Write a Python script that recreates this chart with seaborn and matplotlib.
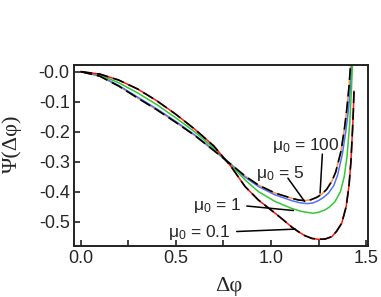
import matplotlib
matplotlib.use("Agg")
import matplotlib.pyplot as plt
import seaborn as sns

# curves, one per mu_0
x_01 = [0, 0.1, 0.2, 0.3, 0.4, 0.5, 0.6, 0.7, 0.79, 0.864, 0.934, 1.022, 1.07, 1.109,
        1.145, 1.179, 1.215, 1.249, 1.285, 1.32, 1.345, 1.372, 1.395, 1.41, 1.42, 1.428,
        1.433, 1.436]
y_01 = [0, -0.008, -0.028, -0.058, -0.097, -0.142, -0.192, -0.248, -0.316, -0.383, -0.428,
        -0.472, -0.497, -0.518, -0.534, -0.547, -0.556, -0.559, -0.558, -0.55, -0.532,
        -0.505, -0.45, -0.38, -0.3, -0.2, -0.128, -0.065]

x_1 = [0, 0.1, 0.2, 0.3, 0.4, 0.5, 0.6, 0.7, 0.79, 0.864, 0.934, 1.022, 1.109, 1.16,
       1.22, 1.25, 1.284, 1.31, 1.337, 1.365, 1.385, 1.40, 1.414, 1.422, 1.428]
y_1 = [0, -0.011, -0.037, -0.071, -0.110, -0.154, -0.201, -0.255, -0.312, -0.361, -0.4,
       -0.433, -0.456, -0.466, -0.472, -0.469, -0.461, -0.45, -0.433, -0.40, -0.35, -0.28,
       -0.17, -0.07, 0.022]

x_5 = [0, 0.1, 0.2, 0.3, 0.4, 0.5, 0.6, 0.7, 0.79, 0.864, 0.934, 1.022, 1.109, 1.15,
       1.19, 1.22, 1.249, 1.275, 1.302, 1.33, 1.35, 1.375, 1.393, 1.407, 1.418, 1.424]
y_5 = [0, -0.014, -0.046, -0.085, -0.124, -0.166, -0.211, -0.262, -0.309, -0.352, -0.383,
       -0.411, -0.43, -0.437, -0.44, -0.438, -0.43, -0.42, -0.405, -0.38, -0.345, -0.275,
       -0.2, -0.128, -0.05, 0.022]

x_100 = [0, 0.1, 0.2, 0.3, 0.4, 0.5, 0.6, 0.7, 0.79, 0.864, 0.934, 1.022, 1.109, 1.145,
         1.178, 1.21, 1.241, 1.268, 1.293, 1.32, 1.34, 1.368, 1.386, 1.398, 1.41, 1.418]
y_100 = [0, -0.015, -0.048, -0.088, -0.127, -0.169, -0.213, -0.263, -0.309, -0.348, -0.378,
         -0.405, -0.422, -0.428, -0.43, -0.427, -0.419, -0.408, -0.392, -0.365, -0.335,
         -0.265, -0.19, -0.128, -0.05, 0.022]

x_ticks = [0.0, 0.5, 1.0, 1.5]
x_ticklabels = ["0.0", "0.5", "1.0", "1.5"]
x_minor = [0.25, 0.75, 1.25]
y_ticks = [0.0, -0.1, -0.2, -0.3, -0.4, -0.5]
y_ticklabels = ["-0.0", "-0.1", "-0.2", "-0.3", "-0.4", "-0.5"]

labels = ["μ$_0$ = 100", "μ$_0$ = 5", "μ$_0$ = 1", "μ$_0$ = 0.1"]

sns.set_style("ticks")
plt.rcParams["font.family"] = ["Liberation Sans", "DejaVu Sans"]
plt.rcParams["mathtext.fontset"] = "custom"
plt.rcParams["mathtext.rm"] = "Liberation Sans"
plt.rcParams["mathtext.it"] = "Liberation Sans:italic"

fig = plt.figure(figsize=(3.81, 2.97), dpi=100)
ax = fig.add_axes([0.194, 0.172, 0.773, 0.609])

lw = 1.1
sns.lineplot(x=x_100, y=y_100, color="#ff9430", lw=lw, sort=False, estimator=None, ax=ax)
sns.lineplot(x=x_5, y=y_5, color="#5072ff", lw=lw, sort=False, estimator=None, ax=ax)
sns.lineplot(x=x_1, y=y_1, color="#33c833", lw=lw, sort=False, estimator=None, ax=ax)
sns.lineplot(x=x_01, y=y_01, color="#ff1414", lw=lw, sort=False, estimator=None, ax=ax)
# black dashed limits on top of the extreme curves
dash = (0, (7, 3))
sns.lineplot(x=x_01, y=y_01, color="black", lw=1.2, linestyle=dash, sort=False,
             estimator=None, ax=ax)
sns.lineplot(x=x_100, y=y_100, color="black", lw=1.2, linestyle=dash, sort=False,
             estimator=None, ax=ax)

ax.set_xlim(-0.035, 1.512)
ax.set_ylim(-0.581, 0.022)
ax.set_xticks(x_ticks)
ax.set_xticklabels(x_ticklabels)
ax.set_xticks(x_minor, minor=True)
ax.set_yticks(y_ticks)
ax.set_yticklabels(y_ticklabels)
ax.tick_params(axis="both", which="both", direction="in", length=4, width=1.2,
               color="#222222", labelsize=13, top=False, right=False)
ax.tick_params(axis="x", which="both", pad=3)
ax.tick_params(axis="y", pad=3)
for s in ax.spines.values():
    s.set_linewidth(1.4)
    s.set_color("#222222")

serif = ["Liberation Serif", "DejaVu Serif"]
ax.set_xlabel("Δφ", family=serif, fontsize=16)
ax.set_ylabel("Ψ(Δφ)", family=serif, fontsize=16)
ax.xaxis.set_label_coords(0.525, -0.172)
ax.yaxis.set_label_coords(-0.177, 0.564)

# annotations: text position, then leader line
ann = [
    (labels[0], (1.185, -0.261), (1.27, -0.275), (1.258, -0.405)),
    (labels[1], (1.048, -0.354), (1.089, -0.355), (1.177, -0.433)),
    (labels[2], (0.719, -0.461), (0.873, -0.448), (1.118, -0.463)),
    (labels[3], (0.623, -0.55), (0.82, -0.533), (1.127, -0.525)),
]
for txt, tpos, p0, p1 in ann:
    ax.text(tpos[0], tpos[1], txt, ha="center", va="baseline", fontsize=12.5)
    ax.plot([p0[0], p1[0]], [p0[1], p1[1]], color="black", lw=1.1)

fig.savefig("out.png", dpi=100)
